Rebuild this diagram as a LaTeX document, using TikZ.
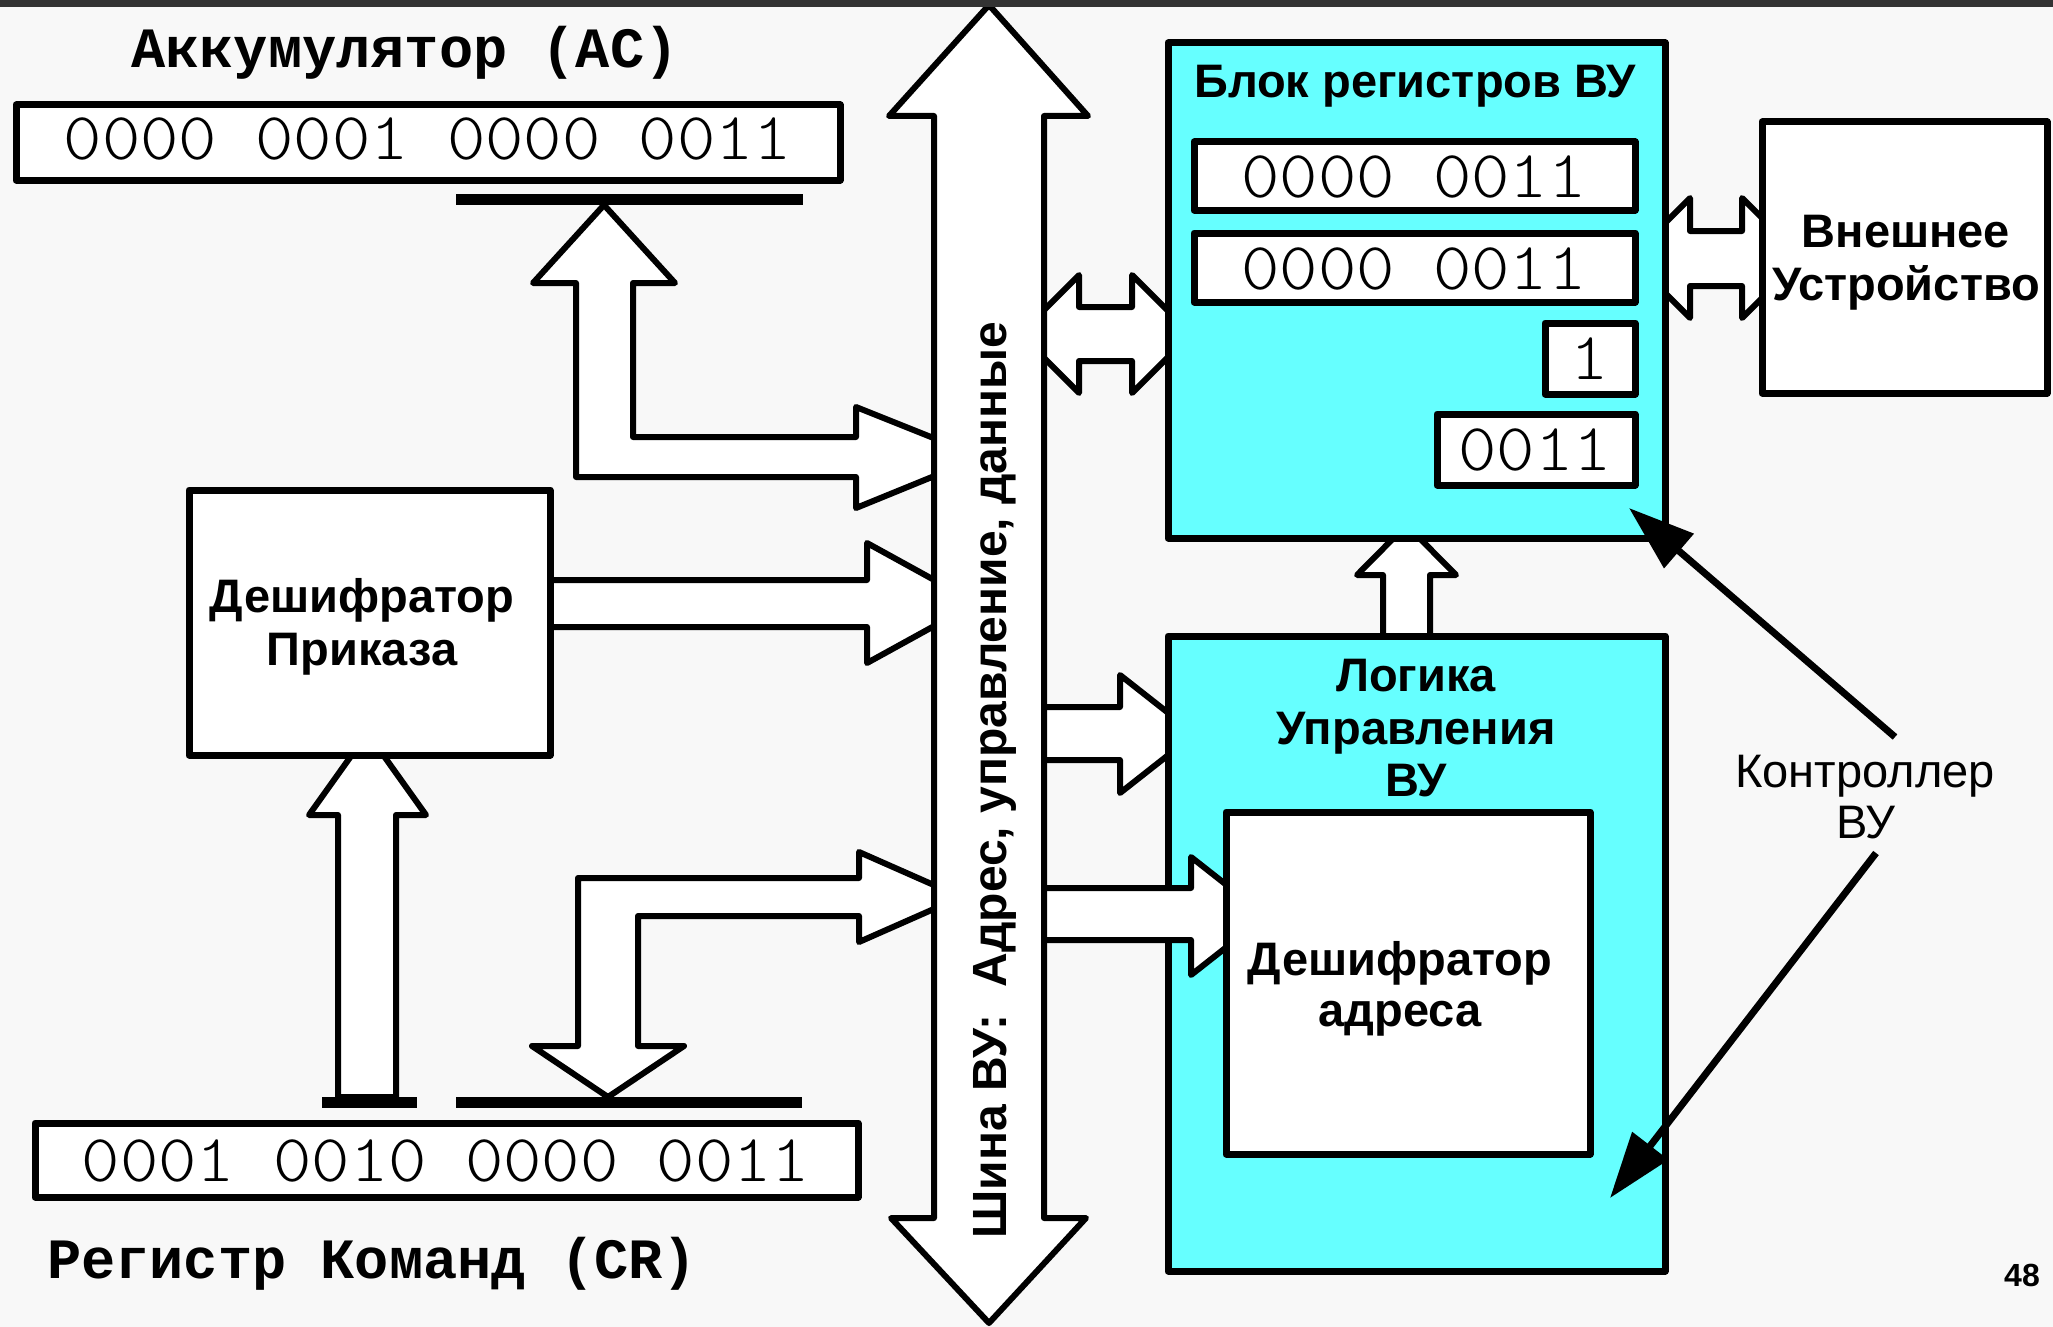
\documentclass[tikz,border=0pt]{standalone}
\usepackage{graphicx}
\usepackage{fontspec}
\setmainfont{Liberation Sans}
\newfontfamily\monofont{Liberation Mono}
\newfontfamily\digitfont{lmmonolt10-regular}[Extension=.otf]
\usetikzlibrary{arrows.meta}
\definecolor{bgpage}{HTML}{F8F8F8}
\definecolor{cyanfill}{HTML}{66FFFF}
\definecolor{topbar}{HTML}{333333}

% register contents: light typewriter digits, slightly flattened
\newcommand{\regdigits}[1]{\scalebox{1}[0.92]{#1}}

\tikzset{
  regbox/.style={draw=black, line width=7pt, fill=white},
  unitblock/.style={draw=black, line width=7pt, fill=cyanfill},
  fatarrow/.style={draw=black, line width=6pt, fill=white, line join=round},
  busbar/.style={fill=black},
  boldtxt/.style={font=\fontsize{47}{52}\selectfont\bfseries, inner sep=0pt, anchor=base},
  plaintxt/.style={font=\fontsize{47}{52}\selectfont, inner sep=0pt, anchor=base},
  regtxt/.style={font=\digitfont\fontsize{73}{80}\selectfont, inner sep=0pt, anchor=base},
  monotxt/.style={font=\monofont\bfseries\fontsize{57}{60}\selectfont, inner sep=0pt, anchor=base},
  pointer/.style={line width=7pt, -{Triangle[length=66pt,width=44pt]}},
}

\begin{document}
\begin{tikzpicture}[x=1pt, y=-1pt, line join=round]
\useasboundingbox (0,0) rectangle (2053,1327);
\fill[bgpage] (0,0) rectangle (2053,1327);

% ---- wide arrows (drawn first, their tips lie under boxes and bus)
% accumulator <-> bus
\draw[fatarrow] (604,205) -- (675,283) -- (633,283) -- (633,437) -- (856,437)
  -- (856,407) -- (981,457) -- (856,508) -- (856,477) -- (576,477) -- (576,283)
  -- (533,283) -- cycle;
% command decoder -> bus
\draw[fatarrow] (545,580) -- (867,580) -- (867,543) -- (976,603) -- (867,663)
  -- (867,627) -- (545,627) -- cycle;
% command register -> command decoder
\draw[fatarrow] (338,1097) -- (338,815) -- (309,815) -- (367.5,733) -- (426,815)
  -- (396,815) -- (396,1097) -- cycle;
% bus <-> command register
\draw[fatarrow] (608,1097) -- (684,1046) -- (638,1046) -- (638,916) -- (859,916)
  -- (859,942) -- (961,897) -- (859,852) -- (859,878) -- (578,878) -- (578,1046)
  -- (532,1046) -- cycle;
% bus <-> register block
\draw[fatarrow] (1020,334) -- (1079,275) -- (1079,307) -- (1132,307) -- (1132,275)
  -- (1191,334) -- (1132,393) -- (1132,361) -- (1079,361) -- (1079,393) -- cycle;
% register block <-> external device
\draw[fatarrow] (1630,258) -- (1690,198) -- (1690,231) -- (1742,231) -- (1742,198)
  -- (1802,258) -- (1742,318) -- (1742,286) -- (1690,286) -- (1690,318) -- cycle;
% control logic -> register block
\draw[fatarrow] (1383,650) -- (1383,575) -- (1357,575) -- (1406.5,525) -- (1456,575)
  -- (1430,575) -- (1430,650) -- cycle;
% bus -> control logic
\draw[fatarrow] (1040,707) -- (1120,707) -- (1120,675) -- (1195,734) -- (1120,793)
  -- (1120,760) -- (1040,760) -- cycle;

% ---- register taps
\fill[busbar] (456,194) rectangle (803,205);
\fill[busbar] (322,1097) rectangle (417,1108);
\fill[busbar] (456,1097) rectangle (802,1108);

% ---- boxes
\draw[regbox] (16,105) rectangle (840,180);
\draw[regbox] (35,1123) rectangle (858,1197);
\draw[regbox] (189,490) rectangle (550,755);
\draw[regbox] (1762,122) rectangle (2047,393);

\draw[unitblock] (1168,43) rectangle (1665,538);
\draw[regbox] (1194,142) rectangle (1635,210);
\draw[regbox] (1194,233) rectangle (1635,302);
\draw[regbox] (1545,323) rectangle (1635,394);
\draw[regbox] (1437,414) rectangle (1635,485);

\draw[unitblock] (1168,636) rectangle (1665,1271);
% bus -> address decoder (lies over the control logic block)
\draw[fatarrow] (1040,888) -- (1191,888) -- (1191,857) -- (1266,916) -- (1191,975)
  -- (1191,940) -- (1040,940) -- cycle;
\draw[regbox] (1226,812) rectangle (1590,1154);

% ---- system bus
\draw[fatarrow] (989,5) -- (1088,116) -- (1044,116) -- (1044,1218) -- (1086,1218)
  -- (989,1323) -- (891,1218) -- (934,1218) -- (934,116) -- (889,116) -- cycle;
\node[boldtxt, font=\fontsize{48}{52}\selectfont\bfseries, rotate=90] (bustxt) at (1006,780)
  {Шина ВУ:~~Адрес, управление, данные};

% ---- texts
\node[monotxt] (aclbl) at (405,68) {Аккумулятор (AC)};
\node[regtxt] (acval) at (428,160) {\regdigits{0000 0001 0000 0011}};
\node[monotxt] (crlbl) at (372,1278) {Регистр Команд (CR)};
\node[regtxt] (crval) at (446,1181) {\regdigits{0001 0010 0000 0011}};

\node[boldtxt] (dec1) at (362,612) {Дешифратор};
\node[boldtxt] (dec2) at (362,665) {Приказа};

\node[boldtxt] (blktitle) at (1415,98) {Блок регистров ВУ};
\node[regtxt] (r1) at (1414,197) {\regdigits{0000 0011}};
\node[regtxt] (r2) at (1414,289) {\regdigits{0000 0011}};
\node[regtxt] (r3) at (1590,379) {\regdigits{1}};
\node[regtxt] (r4) at (1535,470) {\regdigits{0011}};

\node[boldtxt] (ext1) at (1906,247) {Внешнее};
\node[boldtxt] (ext2) at (1906,300) {Устройство};

\node[boldtxt] (log1) at (1416,691) {Логика};
\node[boldtxt] (log2) at (1416,744) {Управления};
\node[boldtxt] (log3) at (1416,796) {ВУ};

\node[boldtxt] (adr1) at (1400,975) {Дешифратор};
\node[boldtxt] (adr2) at (1400,1026) {адреса};

% ---- controller callout
\node[plaintxt] (ctrl1) at (1865,787) {Контроллер};
\node[plaintxt] (ctrl2) at (1866,838) {ВУ};
\coordinate (ctrlup) at (1895,737);
\coordinate (ctrldown) at (1876,853);
\coordinate (regcorner) at (1629,508);
\coordinate (logcorner) at (1610,1198);
\draw[pointer] (ctrlup) -- (regcorner);
\draw[pointer] (ctrldown) -- (logcorner);

\node[font=\fontsize{32}{36}\selectfont\bfseries, inner sep=0pt, anchor=base] (pagenum) at (2022,1286) {48};

% ---- dark strip along the top edge
\fill[topbar] (0,0) rectangle (2053,7);
\end{tikzpicture}
\end{document}
